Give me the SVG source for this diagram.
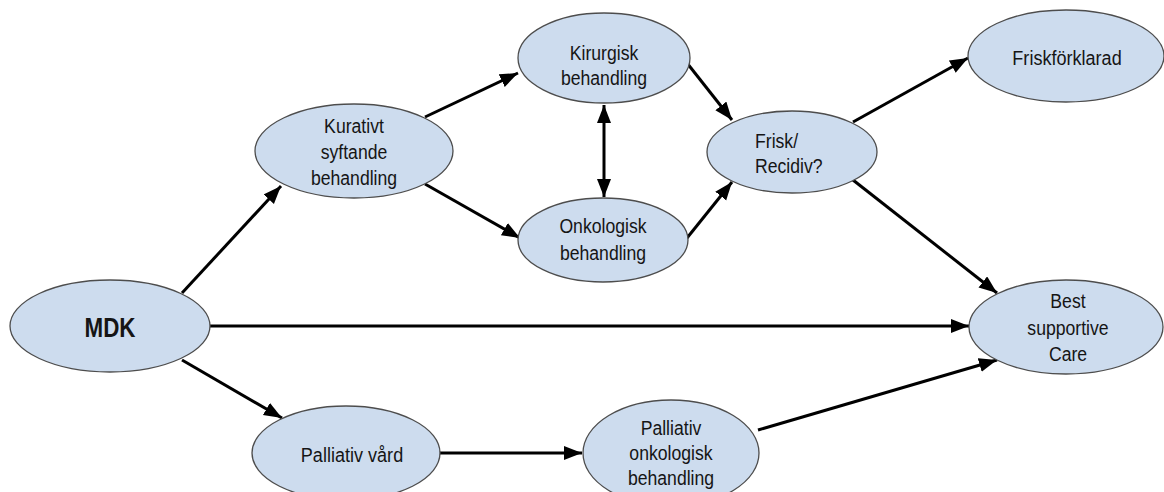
<svg xmlns="http://www.w3.org/2000/svg" width="1164" height="492" viewBox="0 0 1164 492">
<defs>
<marker id="ah" markerUnits="userSpaceOnUse" markerWidth="20" markerHeight="16" refX="18" refY="7" orient="auto-start-reverse">
<path d="M0,0 L18,7 L0,14 z" fill="#000"/>
</marker>
<style>
.n ellipse{fill:#cddcee;stroke:#4d4d4d;stroke-width:1.3}
.n text{font-family:"Liberation Sans",Arial,sans-serif;font-size:21px;fill:#151515;text-anchor:middle}
.c line{stroke:#000;stroke-width:3;marker-end:url(#ah)}
</style>
</defs>
<rect width="1164" height="492" fill="#fff"/>
<g class="c" id="connectors">
<line x1="182" y1="293" x2="281" y2="186"/>
<line x1="182" y1="360" x2="282" y2="418"/>
<line x1="210" y1="326" x2="969" y2="326"/>
<line x1="425" y1="117" x2="518" y2="73"/>
<line x1="425" y1="184" x2="520" y2="238"/>
<line x1="604" y1="105" x2="604" y2="197" style="marker-start:url(#ah)"/>
<line x1="687" y1="63" x2="732" y2="120"/>
<line x1="687" y1="238" x2="732" y2="182"/>
<line x1="853" y1="122" x2="968" y2="58"/>
<line x1="853" y1="180" x2="997" y2="293"/>
<line x1="439" y1="453" x2="582" y2="453"/>
<line x1="758" y1="430" x2="997" y2="360"/>
</g>
<g class="n" id="mdk">
<ellipse cx="110" cy="326" rx="100" ry="46"/>
<text transform="translate(110,337) scale(0.8,1)" style="font-weight:bold;font-size:28px">MDK</text>
</g>
<g class="n" id="kurativt">
<ellipse cx="354" cy="151" rx="99" ry="47"/>
<g transform="translate(354,0) scale(0.84,1)">
<text x="0" y="133">Kurativt</text>
<text x="0" y="159">syftande</text>
<text x="0" y="185">behandling</text>
</g>
</g>
<g class="n" id="kirurgisk">
<ellipse cx="604" cy="58" rx="86" ry="45"/>
<g transform="translate(604,0) scale(0.84,1)">
<text x="0" y="60">Kirurgisk</text>
<text x="0" y="85">behandling</text>
</g>
</g>
<g class="n" id="onkologisk">
<ellipse cx="603" cy="240" rx="85" ry="42"/>
<g transform="translate(603,0) scale(0.84,1)">
<text x="0" y="233">Onkologisk</text>
<text x="0" y="260">behandling</text>
</g>
</g>
<g class="n" id="frisk">
<ellipse cx="792" cy="152" rx="85" ry="41"/>
<g transform="translate(755,0) scale(0.84,1)">
<text x="0" y="148" style="text-anchor:start">Frisk/</text>
<text x="0" y="173" style="text-anchor:start">Recidiv?</text>
</g>
</g>
<g class="n" id="friskforklarad">
<ellipse cx="1066" cy="56" rx="98" ry="46"/>
<text transform="translate(1067,65) scale(0.86,1)">Friskförklarad</text>
</g>
<g class="n" id="bsc">
<ellipse cx="1066" cy="327" rx="97" ry="47"/>
<g transform="translate(1068,0) scale(0.84,1)">
<text x="0" y="308">Best</text>
<text x="0" y="335">supportive</text>
<text x="0" y="361">Care</text>
</g>
</g>
<g class="n" id="palliativ-vard">
<ellipse cx="346" cy="453" rx="94" ry="47"/>
<text transform="translate(352,462) scale(0.86,1)">Palliativ vård</text>
</g>
<g class="n" id="palliativ-onk">
<ellipse cx="671" cy="453" rx="88" ry="53"/>
<g transform="translate(671,0) scale(0.84,1)">
<text x="0" y="435">Palliativ</text>
<text x="0" y="460">onkologisk</text>
<text x="0" y="485">behandling</text>
</g>
</g>
</svg>
